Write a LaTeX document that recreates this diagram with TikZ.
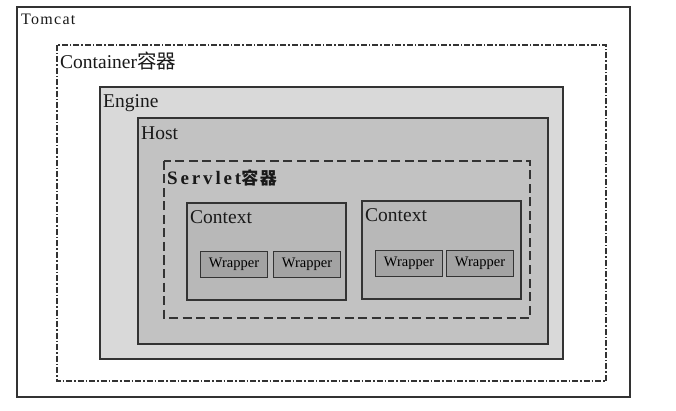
\documentclass[tikz,border=0pt]{standalone}
\usepackage{fontspec}
\setmainfont{Liberation Serif}
\newfontfamily\cjk{Noto Sans CJK SC}
\newfontfamily\spacedA[LetterSpace=8]{Liberation Serif}
\newfontfamily\spacedB[LetterSpace=15]{Liberation Serif}
\newfontfamily\cjkspaced[LetterSpace=10]{Noto Sans CJK SC}
\begin{document}
\begin{tikzpicture}[x=1pt,y=-1pt,
  box/.style={draw=black!80, line width=1.1pt},
  lbl/.style={anchor=base west, inner sep=0pt, text=black!90},
  big/.style={font=\fontsize{19.5}{19.5}\selectfont},
  wrap/.style={box, fill=black!36, minimum width=67pt, minimum height=26pt, anchor=north west, inner sep=0pt, font=\fontsize{14.5}{14.5}\selectfont}
]
\useasboundingbox (0,0) rectangle (676,411);
\fill[white] (0,0) rectangle (676,411);
% Tomcat
\draw[box] (17,7) rectangle (630,397);
\coordinate (tomcat) at (17,7);
\node[lbl, font=\fontsize{16}{16}\spacedA] (tomcatlbl) at (21,25) {Tomcat};
% Container
\draw[box, line width=1.2pt, dash pattern=on 6pt off 2pt on 1.5pt off 2pt] (57,45) rectangle (606,381);
\node[lbl, big] (containerlbl) at (60,69) {Container{\cjk 容器}};
% Engine
\draw[box, fill=black!15] (100,87) rectangle (563,359);
\node[lbl, big] (enginelbl) at (103,108) {Engine};
% Host
\draw[box, fill=black!24] (138,118) rectangle (548,344);
\node[lbl, big] (hostlbl) at (141,140) {Host};
% Servlet
\draw[box, line width=1.6pt, dash pattern=on 9pt off 4.5pt] (164,161) rectangle (530,318);
\node[lbl, font=\fontsize{19}{19}\spacedB\bfseries] (servletlbl) at (167,185) {Servlet{\fontsize{17}{17}\cjkspaced 容器}};
% Context 1
\draw[box, fill=black!28] (187,203) rectangle (346,300);
\node[lbl, big] (ctx1lbl) at (190,224) {Context};
\node[wrap] (w11) at (200,251) {Wrapper};
\node[wrap] (w12) at (273,251) {Wrapper};
% Context 2
\draw[box, fill=black!28] (362,201) rectangle (521,299);
\node[lbl, big] (ctx2lbl) at (365,222) {Context};
\node[wrap] (w21) at (375,250) {Wrapper};
\node[wrap] (w22) at (446,250) {Wrapper};
\end{tikzpicture}
\end{document}
